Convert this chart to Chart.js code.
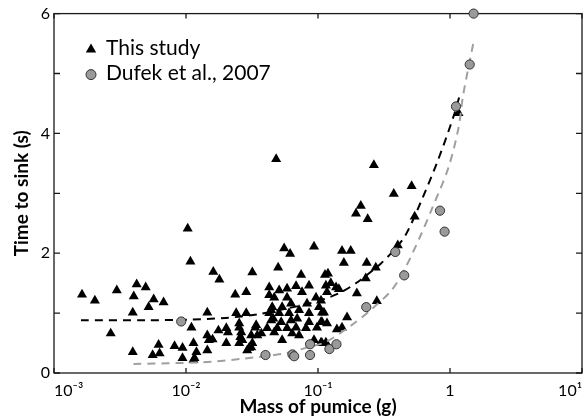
<!DOCTYPE html>
<html>
<head>
<meta charset="utf-8">
<script src="https://cdn.jsdelivr.net/npm/chart.js@4.4.1/dist/chart.umd.min.js"></script>
<style>
  html, body { margin: 0; padding: 0; overflow: hidden; background: #fff; }
  #wrap { width: 590px; height: 416px; }
</style>
</head>
<body>
<div id="wrap"><canvas id="sinkChart"></canvas></div>
<script>
// Mesures : masse de la ponce (g) et temps de chute (s)
const studyMass = [
    0.00163, 0.00204, 0.00299, 0.00423, 0.00495, 0.00402, 0.00569, 0.00676, 0.00521, 0.00395,
    0.00269, 0.00395, 0.00620, 0.00559, 0.00631, 0.00819, 0.00941, 0.00941, 0.0103, 0.0108,
    0.0110, 0.0114, 0.0120, 0.0116, 0.0145, 0.0145, 0.0159, 0.0145, 0.0161, 0.0179,
    0.0176, 0.0202, 0.0202, 0.0236, 0.0286, 0.0318, 0.0240, 0.0286, 0.0253, 0.0335,
    0.0262, 0.0312, 0.0267, 0.0312, 0.0291, 0.0347, 0.0372, 0.0253, 0.0301,
    0.0499, 0.0745, 0.113, 0.0427, 0.0508, 0.0583, 0.0682, 0.0855, 0.0757, 0.1148,
    0.117, 0.0466, 0.0583, 0.0966, 0.0450, 0.0535, 0.0625, 0.0826, 0.1018, 0.0427,
    0.0508, 0.0604, 0.0719, 0.0855, 0.111, 0.0442, 0.0526, 0.0625, 0.0695, 0.0855,
    0.1054, 0.0340, 0.0412, 0.0491, 0.0583, 0.0682, 0.0811, 0.0982, 0.0466, 0.0637,
    0.0719, 0.0535, 0.0933, 0.1054, 0.1148, 0.0427, 0.0442,
    0.0482, 0.265, 0.375, 0.211, 0.194, 0.238, 0.0554, 0.0615, 0.0933, 0.152,
    0.177, 0.157, 0.234, 0.274, 0.119, 0.125, 0.137, 0.144, 0.230, 0.197,
    0.1054, 0.1072, 0.1072, 0.117, 0.166, 0.152, 0.139, 0.279, 0.402, 0.512,
    0.540, 1.16, 0.1072,
    0.0458, 0.0114, 0.0149, 0.0208, 0.0253, 0.0258, 0.0318
];
const studyTime = [
    1.31, 1.21, 1.38, 1.48, 1.43, 1.28, 1.23, 1.18, 1.10, 1.01,
    0.66, 0.35, 0.47, 0.30, 0.33, 0.45, 0.42, 0.25, 2.41, 1.86,
    0.76, 0.50, 0.35, 0.25, 1.01, 0.63, 0.56, 0.38, 1.69, 1.56,
    0.71, 0.75, 0.50, 1.31, 1.35, 1.68, 1.00, 1.00, 0.83, 0.76,
    0.68, 0.63, 0.55, 0.43, 0.38, 0.63, 0.66, 0.50, 0.42,
    1.76, 1.64, 1.64, 1.43, 1.38, 1.41, 1.45, 1.46, 1.35, 1.46,
    1.35, 1.26, 1.26, 1.26, 1.10, 1.10, 1.16, 1.16, 1.10, 1.00,
    1.00, 1.00, 1.05, 1.00, 1.01, 0.88, 0.85, 0.88, 0.91, 0.85,
    0.85, 0.80, 0.75, 0.75, 0.75, 0.76, 0.75, 0.76, 0.68, 0.66,
    0.63, 0.55, 0.55, 0.51, 0.51, 1.30, 1.05,
    3.57, 3.47, 2.99, 2.79, 2.66, 2.57, 2.08, 1.99, 2.11, 2.04,
    2.04, 1.84, 1.84, 1.76, 1.66, 1.50, 1.43, 1.40, 1.58, 1.33,
    1.21, 1.01, 0.85, 0.83, 0.93, 0.76, 0.73, 1.20, 2.13, 3.12,
    2.61, 4.34, 0.50,
    0.91, 0.22, 0.55, 0.68, 0.76, 0.60, 0.50
];

// Dufek et al., 2007
const dufekMass = [0.0092, 0.040, 0.064, 0.066, 0.087, 0.087, 0.122, 0.138, 0.232, 0.45, 0.385, 0.84, 0.91, 1.11, 1.41, 1.51];
const dufekTime = [0.86, 0.30, 0.31, 0.28, 0.48, 0.30, 0.40, 0.48, 1.10, 1.63, 2.02, 2.71, 2.36, 4.45, 5.15, 6.0];

// Courbes d'ajustement
const fitStudyMass = [0.0016, 0.005, 0.01, 0.02, 0.035, 0.075, 0.11, 0.15, 0.2, 0.3, 0.375, 0.46, 0.6, 0.81, 1.07, 1.2];
const fitStudyTime = [0.88, 0.88, 0.89, 0.92, 0.98, 1.13, 1.23, 1.35, 1.52, 1.83, 2.05, 2.3, 2.85, 3.55, 4.3, 4.68];
const fitDufekMass = [0.004, 0.0133, 0.0275, 0.057, 0.081, 0.115, 0.18, 0.25, 0.36, 0.46, 0.6, 0.72, 0.97, 1.16, 1.26, 1.5];
const fitDufekTime = [0.15, 0.18, 0.24, 0.33, 0.42, 0.52, 0.8, 1.05, 1.38, 1.76, 2.3, 2.71, 3.42, 4.09, 4.65, 5.5];

const xTicks = [0.001, 0.01, 0.1, 1, 10];
const xTickLabels = ['10⁻³', '10⁻²', '10⁻¹', '1', '10¹'];
const yTicks = [0, 1, 2, 3, 4, 5, 6];
const yTickLabels = ['0', '', '2', '', '4', '', '6'];

const FONT = 'Lato, "Noto Sans", sans-serif';

function toPoints(xs, ys) {
    return xs.map((v, i) => ({x: v, y: ys[i]}));
}

// Cadre et graduations vers l'intérieur
const frame = {
    id: 'frame',
    beforeDatasetsDraw(chart) {
        const ctx = chart.ctx;
        const a = chart.chartArea;
        const x = chart.scales.x;
        const y = chart.scales.y;
        ctx.save();
        ctx.strokeStyle = '#1a1a1a';
        ctx.lineWidth = 1.3;
        ctx.strokeRect(a.left, a.top, a.right - a.left, a.bottom - a.top);
        ctx.beginPath();
        xTicks.forEach(v => {
            const px = x.getPixelForValue(v);
            ctx.moveTo(px, a.bottom); ctx.lineTo(px, a.bottom - 5);
            ctx.moveTo(px, a.top); ctx.lineTo(px, a.top + 5);
        });
        yTicks.forEach(v => {
            const py = y.getPixelForValue(v);
            ctx.moveTo(a.left, py); ctx.lineTo(a.left + 6, py);
            ctx.moveTo(a.right, py); ctx.lineTo(a.right - 6, py);
        });
        ctx.stroke();
        ctx.restore();
    }
};

// Légende dans le coin supérieur gauche
const cornerLegend = {
    id: 'cornerLegend',
    afterDraw(chart) {
        const ctx = chart.ctx;
        const a = chart.chartArea;
        const items = [
            {ds: chart.data.datasets[0], dy: 36, r: 6},
            {ds: chart.data.datasets[1], dy: 61, r: 5}
        ];
        ctx.save();
        items.forEach(it => {
            ctx.fillStyle = it.ds.backgroundColor;
            ctx.strokeStyle = it.ds.borderColor;
            ctx.lineWidth = it.ds.borderWidth;
            Chart.helpers.drawPoint(ctx, {
                pointStyle: it.ds.pointStyle,
                radius: it.r,
                rotation: 0,
                borderWidth: it.ds.borderWidth
            }, a.left + 37, a.top + it.dy);
            ctx.fillStyle = '#000';
            ctx.font = '21px ' + FONT;
            ctx.textBaseline = 'middle';
            ctx.textAlign = 'left';
            ctx.fillText(it.ds.label, a.left + 52, a.top + it.dy - 1);
        });
        ctx.restore();
    }
};

const ctx = document.getElementById('sinkChart').getContext('2d');
const sinkChart = new Chart(ctx, {
    type: 'scatter',
    data: {
        datasets: [{
            label: 'This study',
            data: toPoints(studyMass, studyTime),
            pointStyle: 'triangle',
            pointRadius: 5.8,
            backgroundColor: '#000',
            borderColor: '#000',
            borderWidth: 0,
            order: 3
        }, {
            label: 'Dufek et al., 2007',
            data: toPoints(dufekMass, dufekTime),
            pointStyle: 'circle',
            pointRadius: 4.6,
            backgroundColor: '#9a9a9a',
            borderColor: '#333',
            borderWidth: 1,
            clip: false,
            order: 1
        }, {
            label: 'fit this study',
            data: toPoints(fitStudyMass, fitStudyTime),
            showLine: true,
            pointRadius: 0,
            borderColor: '#000',
            borderWidth: 2,
            borderDash: [8, 6],
            tension: 0.3,
            order: 2
        }, {
            label: 'fit Dufek',
            data: toPoints(fitDufekMass, fitDufekTime),
            showLine: true,
            pointRadius: 0,
            borderColor: '#a0a0a0',
            borderWidth: 2,
            borderDash: [8, 6],
            tension: 0.3,
            order: 2
        }]
    },
    options: {
        responsive: true,
        maintainAspectRatio: false,
        animation: false,
        layout: {padding: {top: 12, right: 4, bottom: 0, left: 0}},
        plugins: {
            legend: {display: false},
            tooltip: {enabled: false}
        },
        scales: {
            x: {
                type: 'logarithmic',
                min: 0.001,
                max: 10,
                afterBuildTicks: s => { s.ticks = xTicks.map(v => ({value: v})); },
                afterFit: s => { s.height = 43; },
                grid: {display: false, drawTicks: false},
                border: {display: false},
                ticks: {
                    align: 'inner',
                    autoSkip: false,
                    maxRotation: 0,
                    padding: 8,
                    color: '#000',
                    font: {family: FONT, size: 16},
                    callback: (v, i) => xTickLabels[i]
                },
                title: {
                    display: true,
                    text: 'Mass of pumice (g)',
                    color: '#000',
                    font: {family: FONT, size: 19, weight: 'bold', lineHeight: 1},
                    padding: 0
                }
            },
            y: {
                min: 0,
                max: 6,
                afterBuildTicks: s => { s.ticks = yTicks.map(v => ({value: v})); },
                afterFit: s => { s.width = 54; },
                grid: {display: false, drawTicks: false},
                border: {display: false},
                ticks: {
                    autoSkip: false,
                    padding: 4,
                    color: '#000',
                    font: {family: FONT, size: 16},
                    callback: (v, i) => yTickLabels[i]
                },
                title: {
                    display: true,
                    text: 'Time to sink (s)',
                    color: '#000',
                    font: {family: FONT, size: 19, weight: 'bold', lineHeight: 1},
                    padding: {top: 12, bottom: 0}
                }
            }
        }
    },
    plugins: [frame, cornerLegend]
});
</script>
</body>
</html>
